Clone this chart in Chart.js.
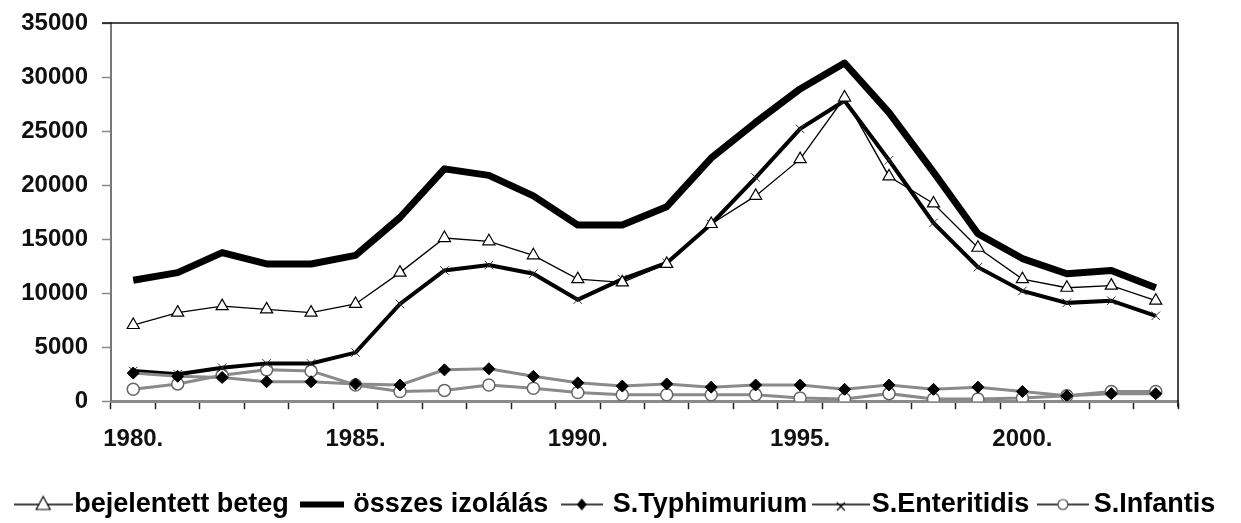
<!DOCTYPE html>
<html>
<head>
<meta charset="utf-8">
<script src="https://cdn.jsdelivr.net/npm/chart.js@4.4.1/dist/chart.umd.min.js"></script>
<style>
  html, body { margin: 0; padding: 0; background: #fff; }
  #wrap { width: 1241px; height: 523px; }
</style>
</head>
<body>
<div id="wrap"><canvas id="chart"></canvas></div>
<script>
const years = ['1980.', '1981.', '1982.', '1983.', '1984.', '1985.', '1986.', '1987.', '1988.', '1989.', '1990.', '1991.',
  '1992.', '1993.', '1994.', '1995.', '1996.', '1997.', '1998.', '1999.', '2000.', '2001.', '2002.', '2003.'];
const shownYears = ['1980.', '1985.', '1990.', '1995.', '2000.'];
const yTicks = [0, 5000, 10000, 15000, 20000, 25000, 30000, 35000];

const bejelentett = [7050, 8200, 8800, 8500, 8200, 9000, 11900, 15100, 14800, 13500, 11300, 11000,
  12700, 16400, 19000, 22400, 28100, 20800, 18300, 14200, 11300, 10500, 10700, 9300];
const osszes = [11200, 11900, 13750, 12700, 12700, 13500, 17000, 21500, 20900, 19000, 16300, 16300,
  18000, 22500, 25800, 28900, 31300, 26700, 21200, 15500, 13200, 11800, 12100, 10500];
const typhimurium = [2600, 2300, 2200, 1800, 1800, 1600, 1500, 2900, 3000, 2300, 1700, 1400,
  1600, 1300, 1500, 1500, 1100, 1500, 1100, 1300, 900, 500, 700, 700];
const enteritidis = [2800, 2500, 3100, 3500, 3500, 4500, 9000, 12100, 12600, 11800, 9400, 11300,
  12800, 16400, 20700, 25200, 27800, 22300, 16500, 12400, 10200, 9100, 9300, 7900];
const infantis = [1100, 1600, 2400, 2900, 2800, 1500, 900, 1000, 1500, 1200, 800, 600,
  600, 600, 600, 300, 200, 700, 200, 200, 300, 500, 900, 900];

const FONT = "'Liberation Sans', Arial, sans-serif";
const GRAY = '#8a8a8a';

// small line + marker pictures for the legend
function makeIcon(w, lw, color, marker) {
  const c = document.createElement('canvas');
  c.width = w; c.height = 20;
  const g = c.getContext('2d');
  g.strokeStyle = color; g.lineWidth = lw;
  g.beginPath(); g.moveTo(0, 10); g.lineTo(w, 10); g.stroke();
  g.lineWidth = 1.2; g.strokeStyle = '#000';
  const cx = w / 2;
  if (marker === 'triangle') {
    g.fillStyle = '#fff';
    g.beginPath(); g.moveTo(cx, 2); g.lineTo(cx + 7, 15); g.lineTo(cx - 7, 15); g.closePath();
    g.fill(); g.stroke();
  } else if (marker === 'diamond') {
    g.fillStyle = '#000';
    g.beginPath(); g.moveTo(cx, 4); g.lineTo(cx + 5, 10); g.lineTo(cx, 16); g.lineTo(cx - 5, 10); g.closePath();
    g.fill();
  } else if (marker === 'cross') {
    g.beginPath(); g.moveTo(cx - 4, 8); g.lineTo(cx + 4, 16); g.moveTo(cx + 4, 8); g.lineTo(cx - 4, 16); g.stroke();
  } else if (marker === 'circle') {
    g.fillStyle = '#fff'; g.strokeStyle = '#444';
    g.beginPath(); g.arc(cx, 10, 5, 0, Math.PI * 2); g.fill(); g.stroke();
  }
  return c;
}
const legendIcons = [
  makeIcon(59, 1.5, '#000', 'triangle'),
  makeIcon(44, 6, '#000', null),
  makeIcon(42, 1.5, '#000', 'diamond'),
  makeIcon(58, 1.5, '#000', 'cross'),
  makeIcon(52, 1.5, '#000', 'circle')
];

const framePlugin = {
  id: 'frame',
  beforeDatasetsDraw(chart) {
    const { ctx, chartArea: a } = chart;
    ctx.save();
    ctx.strokeStyle = '#111';
    ctx.lineWidth = 1.5;
    ctx.beginPath();
    ctx.moveTo(a.left - 9, a.top);
    ctx.lineTo(a.right, a.top);
    ctx.lineTo(a.right, a.bottom + 6);
    ctx.stroke();
    ctx.restore();
  }
};

new Chart(document.getElementById('chart'), {
  type: 'line',
  data: {
    labels: years,
    datasets: [
      {
        label: 'bejelentett beteg',
        data: bejelentett,
        borderColor: '#000',
        borderWidth: 1.3,
        pointStyle: 'triangle',
        pointRadius: 7,
        pointBackgroundColor: '#fff',
        pointBorderColor: '#000',
        pointBorderWidth: 1.2
      },
      {
        label: 'összes izolálás',
        data: osszes,
        borderColor: '#000',
        borderWidth: 7,
        pointRadius: 0,
        borderJoinStyle: 'round'
      },
      {
        label: 'S.Typhimurium',
        data: typhimurium,
        borderColor: GRAY,
        borderWidth: 3,
        pointStyle: 'rectRot',
        pointRadius: 6,
        pointBackgroundColor: '#000',
        pointBorderColor: '#000',
        pointBorderWidth: 1
      },
      {
        label: 'S.Enteritidis',
        data: enteritidis,
        borderColor: '#000',
        borderWidth: 4,
        pointStyle: 'crossRot',
        pointRadius: 6,
        pointBorderColor: '#333',
        pointBorderWidth: 1
      },
      {
        label: 'S.Infantis',
        data: infantis,
        borderColor: GRAY,
        borderWidth: 3,
        pointStyle: 'circle',
        pointRadius: 6,
        pointBackgroundColor: '#fff',
        pointBorderColor: '#666',
        pointBorderWidth: 1.5
      }
    ]
  },
  options: {
    responsive: true,
    maintainAspectRatio: false,
    animation: false,
    layout: { padding: { top: 23, left: 0, right: 0, bottom: -5 } },
    elements: { line: { tension: 0 } },
    plugins: {
      tooltip: { enabled: false },
      legend: {
        position: 'bottom',
        labels: {
          usePointStyle: true,
          pointStyleWidth: 35,
          padding: 16,
          color: '#000',
          font: { family: FONT, size: 27, weight: 'bold' },
          generateLabels(chart) {
            const items = Chart.defaults.plugins.legend.labels.generateLabels(chart);
            items.forEach((it, i) => { it.pointStyle = legendIcons[i]; });
            return items;
          }
        }
      }
    },
    scales: {
      x: {
        offset: true,
        grid: { offset: true, drawOnChartArea: false, tickLength: 8, tickColor: '#222', tickWidth: 1.5 },
        border: { color: GRAY, width: 3 },
        ticks: {
          autoSkip: false,
          maxRotation: 0,
          padding: 16,
          color: '#111',
          font: { family: FONT, size: 24, weight: 'bold' },
          callback(v, i) { const l = years[i]; return shownYears.includes(l) ? l : ''; }
        },
        afterFit(scale) { scale.height += 5; }
      },
      y: {
        min: yTicks[0],
        max: yTicks[yTicks.length - 1],
        afterBuildTicks(scale) { scale.ticks = yTicks.map(v => ({ value: v })); },
        grid: { drawOnChartArea: false, tickLength: 9, tickColor: GRAY, tickWidth: 1.5 },
        border: { color: '#777', width: 2 },
        ticks: {
          padding: 14,
          color: '#111',
          font: { family: FONT, size: 24, weight: 'bold' },
          callback(v) { return String(v); }
        },
        afterFit(scale) {
          scale.width = 111;
          scale.paddingTop = 0;
          scale.paddingBottom = 0;
        }
      },
      yRight: {
        position: 'right',
        display: true,
        grid: { display: false },
        border: { display: false },
        ticks: { display: false },
        afterFit(scale) {
          scale.width = 63;
          scale.paddingTop = 0;
          scale.paddingBottom = 0;
        }
      }
    }
  },
  plugins: [framePlugin]
});
</script>
</body>
</html>
